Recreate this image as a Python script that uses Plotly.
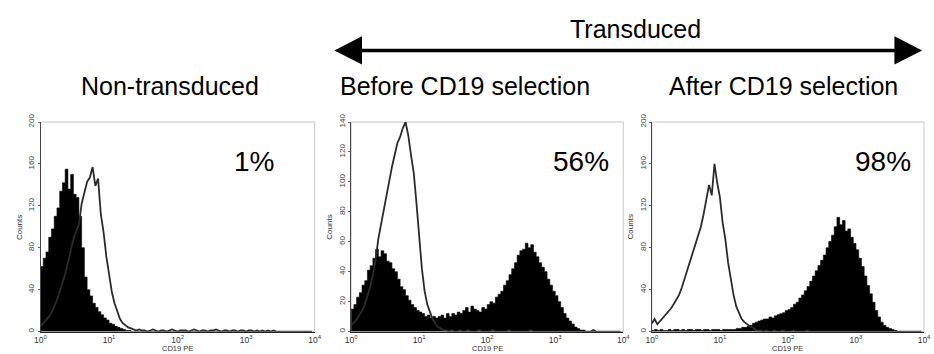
import plotly.graph_objects as go

W, H = 934, 354

# ---------------- data (counts per log-channel bin, bin width 0.04 decade) -------------
bin_step = 0.04
n_bins = 100

panel_titles = ["Non-transduced", "Before CD19 selection", "After CD19 selection"]
percent_labels = ["1%", "56%", "98%"]
y_max = [200, 140, 200]
y_ticks = [[0, 40, 80, 120, 160, 200], [0, 20, 40, 60, 80, 100, 120, 140], [0, 40, 80, 120, 160, 200]]
x_tick_vals = [1, 10, 100, 1000, 10000]
x_tick_text = ["10<sup>0</sup>", "10<sup>1</sup>", "10<sup>2</sup>", "10<sup>3</sup>", "10<sup>4</sup>"]

# Non-transduced
filled_nontransduced = [62, 70, 76, 90, 98, 110, 118, 134, 142, 155, 136, 150, 131, 128, 110, 80,
                        52, 40, 34, 27, 23, 19, 16, 13, 11, 8, 7, 5, 4, 3, 2, 1, 1]
outline_nontransduced = [5, 8, 10, 14, 18, 24, 30, 38, 46, 55, 66, 78, 88, 96, 102, 122,
                         134, 143, 147, 157, 139, 146, 112, 95, 72, 55, 38, 27, 19, 12, 8, 6,
                         4, 3, 2, 1, 2, 1, 1, 0, 1, 2, 1, 0, 1, 1, 0, 1, 2, 1, 0, 1, 1, 1,
                         0, 1, 2, 1, 0, 1, 1, 0, 1, 1, 2, 1, 0, 1, 1, 0, 1, 1, 0, 1, 1, 0,
                         1, 1, 0, 1, 0, 1, 0, 1, 0, 1, 0, 0]
# Before CD19 selection
filled_before = [15, 18, 23, 26, 31, 34, 41, 44, 49, 55, 50, 54, 52, 47, 46, 42,
                 40, 35, 30, 28, 24, 21, 18, 16, 14, 13, 12, 10, 11, 9, 10, 9,
                 10, 11, 9, 12, 10, 12, 11, 13, 12, 14, 16, 13, 17, 15, 14, 13,
                 16, 15, 18, 20, 19, 23, 25, 27, 31, 34, 38, 42, 46, 51, 54, 55,
                 59, 56, 58, 53, 50, 46, 43, 40, 35, 31, 27, 24, 20, 16, 12, 9,
                 7, 5, 3, 2, 1, 1]
outline_before = [4, 6, 8, 11, 14, 18, 24, 30, 38, 48, 62, 72, 82, 92, 101, 110,
                  118, 126, 130, 136, 140, 131, 118, 106, 86, 62, 42, 27, 18, 13, 8, 5,
                  3, 2, 1, 1, 0, 1, 0, 0, 1, 0, 0, 1, 0, 0, 0, 1, 0, 0, 0, 0,
                  1, 0, 0, 0, 0, 0, 1, 0, 0, 0, 0, 0, 0, 0, 1, 0, 0, 0, 0, 0,
                  0, 0, 0, 0, 0, 0, 0, 0, 0, 0, 0, 0, 0, 0, 0, 0, 0, 1]
# After CD19 selection
filled_after = [1, 2, 1, 2, 1, 1, 2, 1, 2, 2, 1, 2, 1, 2, 2, 1,
                2, 2, 1, 2, 2, 1, 2, 2, 2, 1, 2, 2, 2, 2, 2, 3,
                3, 4, 4, 5, 6, 8, 9, 10, 11, 12, 12, 14, 13, 15, 16, 17,
                18, 20, 21, 23, 26, 28, 32, 35, 39, 43, 48, 53, 58, 63, 68, 73,
                80, 86, 92, 100, 109, 102, 106, 96, 98, 90, 84, 78, 70, 62, 53, 44,
                36, 28, 20, 14, 9, 6, 4, 3, 2, 1]
outline_after = [8, 12, 7, 10, 13, 15, 18, 22, 26, 30, 35, 42, 50, 58, 66, 74,
                 82, 92, 100, 112, 125, 140, 130, 160, 142, 128, 104, 88, 66, 48, 35, 24,
                 17, 12, 9, 7, 5, 4, 2, 1, 1, 0, 1, 0, 0, 1, 0, 0, 1, 0, 0, 0,
                 1, 0, 0, 0, 0, 1, 0, 0, 0, 0, 0, 0, 0, 0, 0, 0, 0, 0, 0, 0]

filled_series = [filled_nontransduced, filled_before, filled_after]
outline_series = [outline_nontransduced, outline_before, outline_after]

# ---------------- layout geometry (pixels) ----------------
x_px = [(35, 313), (350, 626), (655, 931)]
y_px = (117, 332)


def px_x(p):
    return p / W


def px_y(p):
    return 1 - p / H


bin_pos = [10 ** (i * bin_step) for i in range(n_bins)]


def pad(vals):
    return list(vals) + [0] * (n_bins - len(vals))


fig = go.Figure()
FONT = "Liberation Sans, Arial, sans-serif"


def note(x, y, text, size, color="black", angle=0):
    fig.add_annotation(x=px_x(x), y=px_y(y), xref="paper", yref="paper",
                       xanchor="center", yanchor="middle", text=text,
                       textangle=angle, showarrow=False,
                       font=dict(size=size, color=color, family=FONT))


for k in range(3):
    xa = "x" if k == 0 else f"x{k + 1}"
    ya = "y" if k == 0 else f"y{k + 1}"
    fig.add_trace(go.Scatter(
        x=bin_pos, y=pad(filled_series[k]), xaxis=xa, yaxis=ya,
        mode="lines", line=dict(shape="hv", color="black", width=0.6),
        fill="tozeroy", fillcolor="black", hoverinfo="skip", showlegend=False))
    fig.add_trace(go.Scatter(
        x=bin_pos, y=pad(outline_series[k]), xaxis=xa, yaxis=ya,
        mode="lines", line=dict(shape="linear", color="#2b2b2b", width=1.8),
        hoverinfo="skip", showlegend=False))

    xkey = "xaxis" if k == 0 else f"xaxis{k + 1}"
    ykey = "yaxis" if k == 0 else f"yaxis{k + 1}"
    fig.layout[xkey] = dict(
        domain=[px_x(x_px[k][0]), px_x(x_px[k][1])], anchor=ya, type="log",
        range=[0, 4], tickvals=x_tick_vals, ticktext=x_tick_text,
        tickfont=dict(size=8.5, color="#333", family=FONT), showgrid=False,
        zeroline=False, showline=True, linecolor="#222", linewidth=1,
        ticks="", ticklabelstandoff=0)
    fig.layout[ykey] = dict(
        domain=[px_y(y_px[1]), px_y(y_px[0])], anchor=xa, range=[0, y_max[k]],
        tickvals=y_ticks[k], tickangle=-90,
        tickfont=dict(size=8, color="#444", family=FONT), showgrid=False,
        zeroline=False, showline=True, linecolor="#444", linewidth=1,
        ticks="outside", ticklen=2, tickcolor="#666")

    # light frame
    fig.add_shape(type="rect", xref="paper", yref="paper",
                  x0=px_x(x_px[k][0]), x1=px_x(x_px[k][1]),
                  y0=px_y(y_px[1]), y1=px_y(y_px[0]),
                  line=dict(color="#c8c8c8", width=1), layer="below")

    cx = (x_px[k][0] + x_px[k][1]) / 2
    note(cx, 349.5, "CD19 PE", 7.5, "#333")
    note(x_px[k][0] - 22, 225, "Counts", 8, "#333", -90)

# titles and percentages
title_cx = [166, 465, 788]
pct_cx = [252, 583, 889]
for k in range(3):
    note(title_cx[k], 80, panel_titles[k], 25)
    note(pct_cx[k], 158, percent_labels[k], 28)

note(638, 22, "Transduced", 25)

# double-headed arrow
fig.add_shape(type="line", xref="paper", yref="paper",
              x0=px_x(355), x1=px_x(905), y0=px_y(43.5), y1=px_y(43.5),
              line=dict(color="black", width=3.5))
fig.add_shape(type="path", xref="paper", yref="paper",
              path=f"M {px_x(333)} {px_y(43.5)} L {px_x(361)} {px_y(29)} L {px_x(361)} {px_y(58)} Z",
              fillcolor="black", line=dict(color="black", width=0))
fig.add_shape(type="path", xref="paper", yref="paper",
              path=f"M {px_x(929)} {px_y(43.5)} L {px_x(901)} {px_y(29)} L {px_x(901)} {px_y(58)} Z",
              fillcolor="black", line=dict(color="black", width=0))

fig.update_layout(width=W, height=H, margin=dict(l=0, r=0, t=0, b=0),
                  paper_bgcolor="white", plot_bgcolor="white",
                  font=dict(family=FONT))

fig.write_html("out.html", config={"displayModeBar": False},
               post_script="document.body.style.margin='0px';")
